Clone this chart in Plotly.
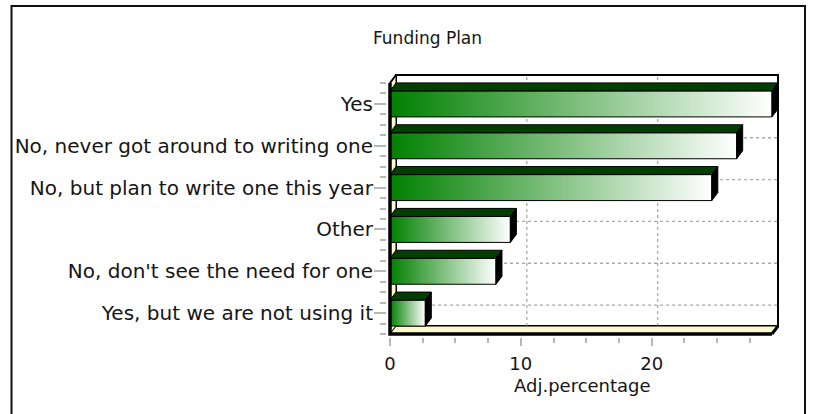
import plotly.graph_objects as go

# ---- data -------------------------------------------------------------
categories = [
    "Yes, but we are not using it",
    "No, don't see the need for one",
    "Other",
    "No, but plan to write one this year",
    "No, never got around to writing one",
    "Yes",
]
values = [2.7, 8.1, 9.2, 24.6, 26.5, 29.2]
x_ticks = [0, 10, 20]
chart_title = "Funding Plan"
x_title = "Adj.percentage"

# ---- geometry (pixels) -----------------------------------------------
W, H = 813, 414
X0_PX, X_END_PX = 390, 772      # front plane: zero and the largest value
Y_BOT_PX, Y_TOP_PX = 334, 83    # front plane: bottom and top of the category band
DEPTH_X, DEPTH_Y = 6, 8         # pseudo 3-D depth
PAD = 3
BAR_HALF_PX = 13

FONT = "DejaVu Sans"
TEXT = "#151515"
GREEN = "rgb(0,128,0)"
TOP_GREEN = "#003f00"
CREAM = "#fcf9cf"
TICK = "#b8b8b8"
GRID = "#ababab"

n = len(categories)
xmax = max(values)
kx = (X_END_PX - X0_PX) / xmax
ky = (Y_BOT_PX - Y_TOP_PX) / n
dx = DEPTH_X / kx
dy = DEPTH_Y / ky
h = BAR_HALF_PX / ky

left_px = X0_PX - PAD
right_px = X_END_PX + DEPTH_X + PAD
bottom_px = Y_BOT_PX + PAD
top_px = Y_TOP_PX - DEPTH_Y - 2

x_range = [-PAD / kx, xmax + (DEPTH_X + PAD) / kx]
y_range = [-0.5 - PAD / ky, n - 0.5 + (DEPTH_Y + 2) / ky]
y_lo, y_hi = -0.5, n - 0.5


def paper_x(px):
    return (px - left_px) / (right_px - left_px)


def paper_y(py):
    return (bottom_px - py) / (bottom_px - top_px)


def poly(xs, ys, fill=None, line_color="black", line_width=1, **kw):
    args = dict(
        x=list(xs) + [xs[0]], y=list(ys) + [ys[0]], mode="lines",
        line=dict(color=line_color, width=line_width),
        hoverinfo="skip", showlegend=False,
    )
    if fill is not None:
        args.update(fill="toself", fillcolor=fill)
    args.update(kw)
    return go.Scatter(**args)


def path(xs, ys, color="black", width=1, dash="solid"):
    return go.Scatter(x=xs, y=ys, mode="lines",
                      line=dict(color=color, width=width, dash=dash),
                      hoverinfo="skip", showlegend=False)


fig = go.Figure()

# back wall
fig.add_trace(poly([dx, xmax + dx, xmax + dx, dx],
                   [y_lo + dy, y_lo + dy, y_hi + dy, y_hi + dy],
                   fill="white", line_width=2))

# dotted grid on the back wall
gx, gy = [], []
for t in x_ticks[1:]:
    gx += [t + dx, t + dx, None]
    gy += [y_lo + dy, y_hi + dy, None]
for i in range(n):
    gx += [dx, xmax + dx, None]
    gy += [i + dy, i + dy, None]
fig.add_trace(path(gx, gy, color=GRID, width=1.3, dash="dot"))

# left wall and floor
fig.add_trace(poly([0, dx, dx, 0], [y_lo, y_lo + dy, y_hi + dy, y_hi], fill=CREAM))
fig.add_trace(poly([0, xmax, xmax + dx, dx], [y_lo, y_lo, y_lo + dy, y_lo + dy], fill=CREAM))

# bars: gradient front face, dark top face, black side face
for i, v in enumerate(values):
    fig.add_trace(poly([0, v, v, 0], [i - h, i - h, i + h, i + h],
                       fill=GREEN,
                       fillgradient=dict(type="horizontal",
                                         colorscale=[[0, GREEN], [1, "white"]])))
    fig.add_trace(poly([0, v, v + dx, dx], [i + h, i + h, i + h + dy, i + h + dy],
                       fill=TOP_GREEN))
    fig.add_trace(poly([v, v + dx, v + dx, v], [i - h, i - h + dy, i + h + dy, i + h],
                       fill="black"))

# heavy front edges of the walls
fig.add_trace(path([0, 0, xmax], [y_hi, y_lo, y_lo], width=3.5))
fig.add_trace(path([xmax, xmax + dx], [y_lo, y_lo + dy], width=3))
fig.add_trace(path([0, dx], [y_hi, y_hi + dy], width=2))

fig.update_layout(
    width=W, height=H, autosize=False,
    margin=dict(l=left_px, r=W - right_px, t=top_px, b=H - bottom_px, pad=0),
    paper_bgcolor="white", plot_bgcolor="rgba(0,0,0,0)",
    font=dict(family=FONT, size=18, color=TEXT),
    showlegend=False,
    xaxis=dict(
        range=x_range, showgrid=False, zeroline=False, showline=False,
        tickmode="array", tickvals=x_ticks, ticks="outside", ticklen=8,
        tickwidth=1.5, tickcolor=TICK, tickfont=dict(size=18, color=TEXT),
        ticklabelstandoff=2,
        minor=dict(tickmode="linear", tick0=0, dtick=2.5, ticks="outside",
                   ticklen=5, tickwidth=1.5, tickcolor=TICK, showgrid=False),
        fixedrange=True,
    ),
    yaxis=dict(
        range=y_range, showgrid=False, zeroline=False, showline=False,
        tickmode="array", tickvals=list(range(n)), ticktext=categories,
        ticks="outside", ticklen=12, tickwidth=1.5, tickcolor=TICK,
        tickfont=dict(size=20, color=TEXT), ticklabelstandoff=-3,
        minor=dict(tickmode="linear", tick0=-0.5, dtick=0.25, ticks="outside",
                   ticklen=6, tickwidth=1.5, tickcolor=TICK, showgrid=False),
        fixedrange=True,
    ),
    shapes=[dict(type="rect", xref="paper", yref="paper",
                 x0=paper_x(11.5), x1=paper_x(805), y0=paper_y(420), y1=paper_y(6),
                 line=dict(color="#111111", width=2), fillcolor="rgba(0,0,0,0)",
                 layer="above")],
    annotations=[
        dict(text=chart_title, xref="paper", yref="paper",
             x=paper_x(427.5), y=paper_y(38), showarrow=False,
             xanchor="center", yanchor="middle", font=dict(size=17, color=TEXT)),
        dict(text=x_title, xref="paper", yref="paper",
             x=paper_x(582), y=paper_y(385), showarrow=False,
             xanchor="center", yanchor="middle", font=dict(size=18, color=TEXT)),
    ],
)

fig.write_html("out.html")
